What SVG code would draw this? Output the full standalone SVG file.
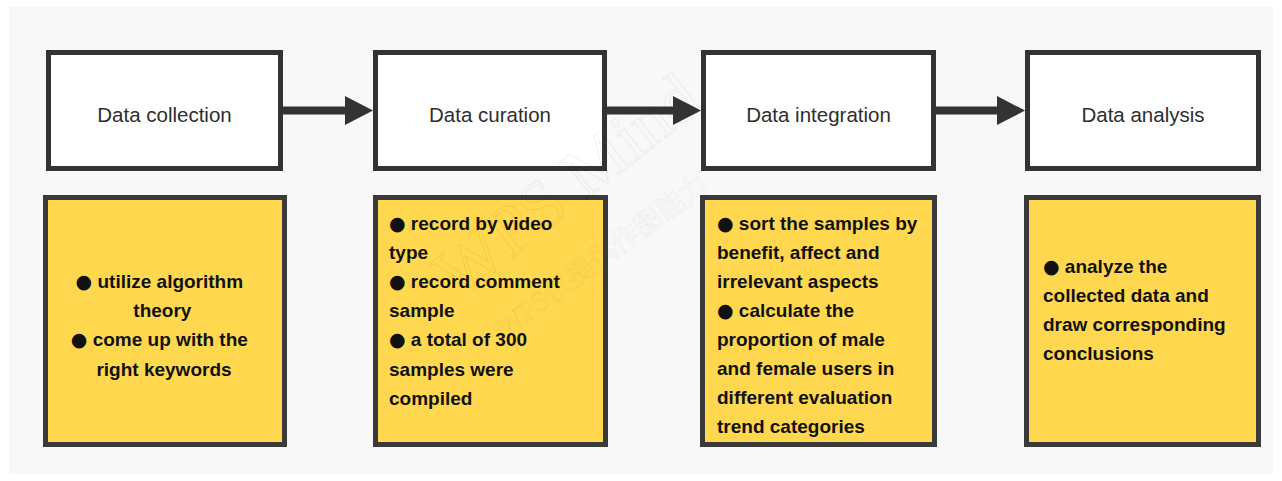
<svg xmlns="http://www.w3.org/2000/svg" width="1282" height="481" viewBox="0 0 1282 481">
  <defs>
    <marker id="arrowhead" markerUnits="userSpaceOnUse" markerWidth="28" markerHeight="29" refX="5" refY="14.5" orient="auto">
      <path d="M0,0 L28,14.5 L0,29 Z" fill="#333333"/>
    </marker>
    <style>
      .step { fill: #ffffff; stroke: #333333; stroke-width: 5; }
      .note { fill: #ffd84f; stroke: #3a3a3a; stroke-width: 5; }
      .title { font-family: "Liberation Sans", Arial, sans-serif; font-size: 20.5px; fill: #2e2e2e; text-anchor: middle; }
      .body { font-family: "Liberation Sans", Arial, sans-serif; font-size: 19px; font-weight: bold; fill: #111111; }
      .dot { font-family: "DejaVu Sans", sans-serif; font-weight: normal; }
      .flow { stroke: #333333; stroke-width: 8; fill: none; marker-end: url(#arrowhead); }
      .mark { font-family: "Liberation Serif", "Noto Sans CJK SC", serif; fill: none; stroke: #000000; stroke-opacity: 0.06; stroke-width: 1; }
    </style>
  </defs>

  <!-- page -->
  <rect x="0" y="0" width="1282" height="481" fill="#ffffff"/>
  <rect x="9" y="7" width="1264" height="467" fill="#f8f8f8"/>

  <!-- step headers -->
  <g id="step-collection">
    <rect class="step" x="48.5" y="52.5" width="232" height="116"/>
    <text class="title" x="164.5" y="121.5">Data collection</text>
  </g>
  <g id="step-curation">
    <rect class="step" x="375.5" y="52.5" width="229" height="116"/>
    <text class="title" x="490" y="121.5">Data curation</text>
  </g>
  <g id="step-integration">
    <rect class="step" x="703.5" y="52.5" width="230" height="116"/>
    <text class="title" x="818.5" y="121.5">Data integration</text>
  </g>
  <g id="step-analysis">
    <rect class="step" x="1027.5" y="52.5" width="231" height="116"/>
    <text class="title" x="1143" y="121.5">Data analysis</text>
  </g>

  <!-- detail notes -->
  <g id="note-collection">
    <rect class="note" x="45.5" y="197.5" width="239" height="247"/>
    <text class="body" text-anchor="middle">
      <tspan x="162" y="288"><tspan class="dot">●</tspan> utilize algorithm</tspan>
      <tspan x="165" y="317.2">theory</tspan>
      <tspan x="162" y="346.4"><tspan class="dot">●</tspan> come up with the</tspan>
      <tspan x="164" y="375.6">right keywords</tspan>
    </text>
  </g>
  <g id="note-curation">
    <rect class="note" x="375.5" y="197.5" width="230" height="247"/>
    <text class="body">
      <tspan x="389" y="229.5"><tspan class="dot">●</tspan> record by video</tspan>
      <tspan x="389" y="258.7">type</tspan>
      <tspan x="389" y="287.9"><tspan class="dot">●</tspan> record comment</tspan>
      <tspan x="389" y="317.1">sample</tspan>
      <tspan x="389" y="346.3"><tspan class="dot">●</tspan> a total of 300</tspan>
      <tspan x="389" y="375.5">samples were</tspan>
      <tspan x="389" y="404.7">compiled</tspan>
    </text>
  </g>
  <g id="note-integration">
    <rect class="note" x="702.5" y="197.5" width="232" height="247"/>
    <text class="body">
      <tspan x="717" y="230"><tspan class="dot">●</tspan> sort the samples by</tspan>
      <tspan x="717" y="259">benefit, affect and</tspan>
      <tspan x="717" y="288.1">irrelevant aspects</tspan>
      <tspan x="717" y="317.1"><tspan class="dot">●</tspan> calculate the</tspan>
      <tspan x="717" y="346.2">proportion of male</tspan>
      <tspan x="717" y="375.2">and female users in</tspan>
      <tspan x="717" y="404.3">different evaluation</tspan>
      <tspan x="717" y="433.3">trend categories</tspan>
    </text>
  </g>
  <g id="note-analysis">
    <rect class="note" x="1026.5" y="197.5" width="232" height="247"/>
    <text class="body">
      <tspan x="1043" y="272.7"><tspan class="dot">●</tspan> analyze the</tspan>
      <tspan x="1043" y="301.8">collected data and</tspan>
      <tspan x="1043" y="330.9">draw corresponding</tspan>
      <tspan x="1043" y="360">conclusions</tspan>
    </text>
  </g>

  <!-- flow between steps -->
  <g id="connectors">
    <line class="flow" x1="283" y1="110.5" x2="350" y2="110.5"/>
    <line class="flow" x1="607" y1="110.5" x2="678" y2="110.5"/>
    <line class="flow" x1="936" y1="110.5" x2="1002" y2="110.5"/>
  </g>

  <!-- watermark -->
  <g id="watermark">
    <text class="mark" font-size="70" transform="translate(458,300) rotate(-38)">WPS Mind</text>
    <text class="mark" font-size="28" transform="translate(505,338) rotate(-36)">WPS仅提供作图能力</text>
  </g>
</svg>
